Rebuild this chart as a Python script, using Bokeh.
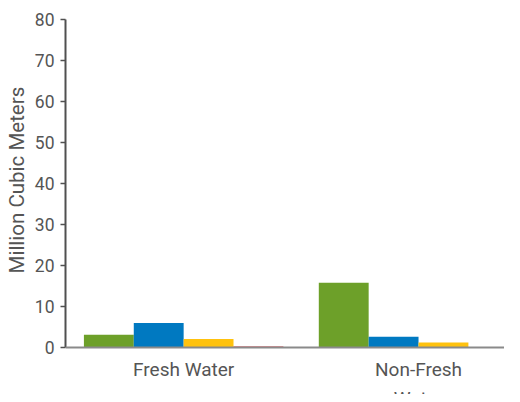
from bokeh.plotting import figure
from bokeh.models import Range1d, FixedTicker, ColumnDataSource, Span, Title
from bokeh.core.properties import value
from bokeh.embed import file_html
from bokeh.resources import INLINE

categories = ["Fresh Water", "Non-Fresh\nWater"]
series_colors = ["#6DA029", "#0079C1", "#FFC20E", "#D2232A"]
series1 = [3.1, 15.8]
series2 = [6.0, 2.6]
series3 = [2.1, 1.2]
series4 = [0.25, 0.0]
y_ticks = [0, 10, 20, 30, 40, 50, 60, 70, 80]
y_title = "Million Cubic Meters"

FONT = "Roboto"
TXT = "#555555"

p = figure(width=504, height=394, output_backend="svg", toolbar_location=None,
           x_range=Range1d(-0.003, 1.866), y_range=Range1d(-11.46, 80),
           x_axis_location=None,
           min_border_left=65, min_border_right=0, min_border_top=19, min_border_bottom=0)
p.outline_line_color = None
p.grid.visible = False

bw = 0.2123
centers = [i + 0.5 for i in range(len(categories))]
all_series = [series1, series2, series3, series4]
for k, (vals, col) in enumerate(zip(all_series, series_colors)):
    xs = [c + (k - 1.5) * bw for c in centers]
    src = ColumnDataSource(dict(x=xs, top=vals))
    p.vbar(x="x", top="top", bottom=0, width=bw, source=src, fill_color=col, line_color=None)

# category axis line and labels
p.add_layout(Span(location=0, dimension="width", line_color="#8a8a8a", line_width=2))
lab_src = ColumnDataSource(dict(x=centers, y=[-2.55] * len(centers), text=categories))
p.text(x="x", y="y", text="text", source=lab_src,
       text_font=value(FONT), text_font_size="19px", text_color=TXT,
       text_align="center", text_baseline="top", text_line_height=1.26)

# y axis
p.yaxis.ticker = FixedTicker(ticks=y_ticks)
p.yaxis.bounds = (0, 80)
p.yaxis.minor_tick_line_color = None
p.yaxis.major_tick_in = 0
p.yaxis.major_tick_out = 5
p.yaxis.major_tick_line_color = "#505050"
p.yaxis.major_tick_line_width = 1.5
p.yaxis.axis_line_color = "#505050"
p.yaxis.axis_line_width = 2
p.yaxis.major_label_text_font = FONT
p.yaxis.major_label_text_font_size = "17.5px"
p.yaxis.major_label_text_color = TXT
p.yaxis.major_label_standoff = 6

# y title, placed along the 0..80 span rather than the whole frame
p.add_layout(Title(text=y_title, align="left", offset=121, standoff=5,
                   text_font=FONT, text_font_size="20.5px", text_font_style="normal",
                   text_color=TXT), "left")

open("out.html", "w").write(file_html(p, INLINE))
